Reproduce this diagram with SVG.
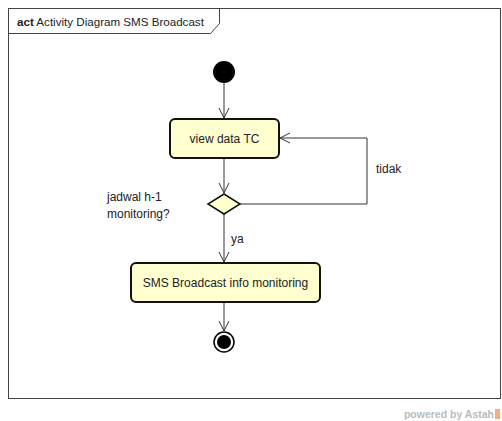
<svg xmlns="http://www.w3.org/2000/svg" width="502" height="421" viewBox="0 0 502 421">
<defs>
<style>
text{font-family:"Liberation Sans",Arial,sans-serif;font-size:12px;fill:#222}
.act{fill:#ffffd0;stroke:#111;stroke-width:2}
.edge{fill:none;stroke:#333;stroke-width:1}
</style>
<marker id="open" viewBox="0 0 12 12" refX="11" refY="6" markerWidth="12" markerHeight="12" markerUnits="userSpaceOnUse" orient="auto">
<path d="M1,1 L11,6 L1,11" fill="none" stroke="#333" stroke-width="1"/>
</marker>
</defs>
<rect width="502" height="421" fill="#fff"/>
<g id="frame">
<rect x="8.5" y="8.5" width="492" height="390" fill="none" stroke="#444" stroke-width="1"/>
<path d="M8.5,33.5 H210.5 L219.5,23.5 V8.5" fill="none" stroke="#444" stroke-width="1"/>
<text x="17" y="26" style="font-size:11.6px"><tspan font-weight="bold">act</tspan> Activity Diagram SMS Broadcast</text>
</g>
<g id="connectors">
<line class="edge" x1="224" y1="83" x2="224" y2="118" marker-end="url(#open)"/>
<line class="edge" x1="224" y1="158" x2="224" y2="193" marker-end="url(#open)"/>
<polyline class="edge" points="240,204 367,204 367,138 280,138" marker-end="url(#open)"/>
<line class="edge" x1="224" y1="214" x2="224" y2="262" marker-end="url(#open)"/>
<line class="edge" x1="224" y1="302" x2="224" y2="331" marker-end="url(#open)"/>
<text x="376" y="173">tidak</text>
<text x="231" y="243">ya</text>
</g>
<g id="initial">
<circle cx="224" cy="72" r="11" fill="#000"/>
</g>
<g id="viewDataTC">
<rect class="act" x="170" y="119" width="109" height="39" rx="5"/>
<text x="224.5" y="143" text-anchor="middle">view data TC</text>
</g>
<g id="decision">
<polygon points="224,194 240,204 224,214 208,204" fill="#ffffd0" stroke="#111" stroke-width="1.5"/>
<text x="107" y="201">jadwal h-1</text>
<text x="107" y="218">monitoring?</text>
</g>
<g id="smsBroadcast">
<rect class="act" x="131" y="263" width="189" height="39" rx="5"/>
<text x="225.5" y="287" text-anchor="middle">SMS Broadcast info monitoring</text>
</g>
<g id="final">
<circle cx="224" cy="342" r="10" fill="#fff" stroke="#000" stroke-width="1.5"/>
<circle cx="224" cy="342" r="7" fill="#000"/>
</g>
<g id="watermark">
<text x="494" y="418" text-anchor="end" style="font-size:10.5px;font-weight:bold;fill:#bbb">powered by Astah</text>
<rect x="495" y="409" width="5" height="10" fill="#f0b080"/>
</g>
</svg>
